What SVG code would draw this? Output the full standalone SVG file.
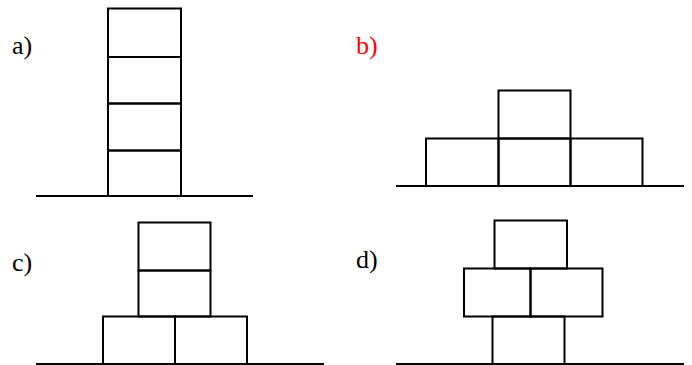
<svg xmlns="http://www.w3.org/2000/svg" width="692" height="365" viewBox="0 0 692 365">
<style>
.b{fill:none;stroke:#000;stroke-width:2}
.g{stroke:#000;stroke-width:2}
.t{font-family:"Liberation Serif",serif;font-size:26px;fill:#000}
</style>
<rect width="692" height="365" fill="#fff"/>
<g id="panel-a">
<text class="t" x="12" y="54">a)</text>
<rect id="a1" class="b" x="108" y="8.5" width="73" height="48.5"/>
<rect id="a2" class="b" x="108" y="57" width="73" height="46.5"/>
<rect id="a3" class="b" x="108" y="103.5" width="73" height="47"/>
<rect id="a4" class="b" x="108" y="150.5" width="73" height="45.5"/>
<line class="g" x1="36" y1="196" x2="253" y2="196"/>
</g>
<g id="panel-b">
<text class="t" x="356" y="54" style="fill:#ff0000">b)</text>
<rect id="b1" class="b" x="498.5" y="90.5" width="72" height="48"/>
<rect id="b2" class="b" x="426" y="138.5" width="72.5" height="47.5"/>
<rect id="b3" class="b" x="498.5" y="138.5" width="72" height="47.5"/>
<rect id="b4" class="b" x="570.5" y="138.5" width="72" height="47.5"/>
<line class="g" x1="396" y1="186" x2="684" y2="186"/>
</g>
<g id="panel-c">
<text class="t" x="12" y="271">c)</text>
<rect id="c1" class="b" x="138.5" y="222.5" width="72" height="48"/>
<rect id="c2" class="b" x="138.5" y="270.5" width="72" height="46"/>
<rect id="c3" class="b" x="103" y="316.5" width="72" height="47.5"/>
<rect id="c4" class="b" x="175" y="316.5" width="72" height="47.5"/>
<line class="g" x1="36" y1="364" x2="324" y2="364"/>
</g>
<g id="panel-d">
<text class="t" x="356" y="268">d)</text>
<rect id="d1" class="b" x="494.5" y="220.5" width="72.5" height="48"/>
<rect id="d2" class="b" x="464" y="268.5" width="66.5" height="48"/>
<rect id="d3" class="b" x="530.5" y="268.5" width="72" height="48"/>
<rect id="d4" class="b" x="492.5" y="316.5" width="72" height="47.5"/>
<line class="g" x1="396" y1="364" x2="684" y2="364"/>
</g>
</svg>
